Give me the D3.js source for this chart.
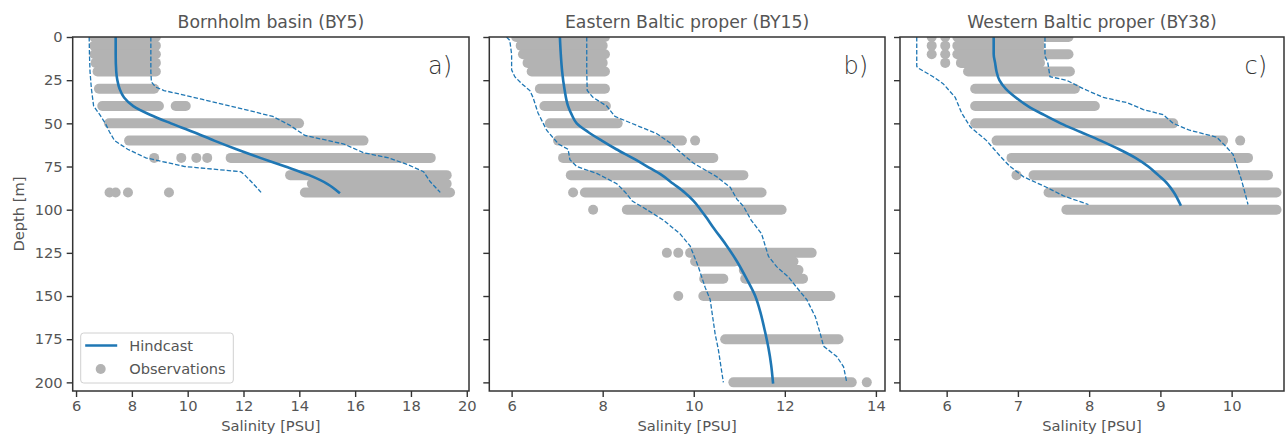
<!DOCTYPE html>
<html>
<head>
<meta charset="utf-8">
<script src="https://cdn.jsdelivr.net/npm/d3@7"></script>
<style>
  body { margin: 0; background: #fff; }
  svg text { font-family: "DejaVu Sans", sans-serif; fill: #555; }
  .axis path, .axis line { stroke: #333; }
</style>
</head>
<body>
<div class="chart"></div>
<script>
// ---- Bornholm basin (BY5) ----
const hindDepthA = [0, 10, 20, 25, 30, 35, 40, 45, 50, 55, 60, 65, 70, 75, 80, 85, 90];
const hindSalA = [7.42, 7.42, 7.44, 7.48, 7.56, 7.72, 8.05, 8.65, 9.4, 10.2, 10.95, 11.75, 12.6, 13.5, 14.35, 15.0, 15.42];
const lowDepthA = [0, 10, 20, 30, 40, 45, 50, 55, 60, 65, 70, 75, 78, 80, 85, 90];
const lowSalA = [6.47, 6.48, 6.5, 6.55, 6.63, 6.85, 7.05, 7.2, 7.38, 7.85, 8.5, 9.9, 11.9, 12.05, 12.35, 12.63];
const upDepthA = [0, 10, 20, 26, 29, 31, 36, 41, 46, 51, 57, 62, 67, 70, 74, 78, 84, 90];
const upSalA = [8.68, 8.68, 8.68, 8.7, 8.85, 9.15, 10.5, 11.8, 13.05, 13.65, 14.2, 15.6, 16.3, 17.2, 17.9, 18.45, 18.7, 19.05];
// observation rows: [depth, min salinity, max salinity]
const obsRowsA = [
  [0, 6.65, 8.86], [5, 6.65, 8.86], [10, 6.66, 8.86], [15, 6.7, 8.86], [20, 6.77, 8.86],
  [30, 6.82, 8.8], [40, 6.94, 8.97], [40, 9.57, 9.93], [50, 7.18, 13.99], [60, 7.9, 16.3],
  [70, 11.54, 18.71], [80, 13.67, 19.28], [85, 14.45, 19.28], [90, 14.2, 19.4]
];
// single observations: [depth, salinity]
const obsDotsA = [[70, 8.8], [70, 9.77], [70, 10.31], [70, 10.7], [90, 7.2], [90, 7.42], [90, 7.86], [90, 9.33]];

// ---- Eastern Baltic proper (BY15) ----
const hindDepthB = [0, 10, 20, 30, 40, 45, 50, 55, 60, 65, 70, 75, 80, 85, 90, 95, 100, 105, 110, 120, 130, 140, 150, 160, 170, 180, 190, 200];
const hindSalB = [7.06, 7.08, 7.11, 7.16, 7.24, 7.32, 7.43, 7.68, 7.98, 8.3, 8.65, 8.98, 9.3, 9.55, 9.8, 10.0, 10.15, 10.29, 10.42, 10.7, 10.95, 11.16, 11.35, 11.47, 11.56, 11.64, 11.7, 11.74];
const lowDepthB = [0, 2, 10, 19, 23, 27, 31, 35, 44, 54, 62, 65, 71, 75, 79, 85, 90, 95, 100, 106, 114, 121, 133, 145, 152, 172, 181, 200];
const lowSalB = [5.89, 5.96, 6.0, 6.0, 6.07, 6.22, 6.4, 6.47, 6.58, 6.77, 7.03, 7.24, 7.28, 7.43, 7.87, 8.31, 8.5, 8.65, 8.97, 9.33, 9.7, 9.92, 10.1, 10.25, 10.36, 10.47, 10.54, 10.65];
const upDepthB = [0, 10, 20, 31, 35, 40, 46, 52, 56, 62, 65, 73, 81, 87, 94, 98, 106, 114, 127, 133, 139, 145, 152, 162, 172, 179, 185, 191, 200];
const upSalB = [7.65, 7.65, 7.65, 7.66, 7.79, 8.09, 8.27, 8.82, 9.19, 9.52, 9.63, 9.99, 10.51, 10.8, 10.95, 11.09, 11.26, 11.49, 11.64, 11.82, 12.08, 12.26, 12.48, 12.67, 12.78, 12.85, 13.14, 13.29, 13.36];
const obsRowsB = [
  [0, 6.1, 8.05], [5, 6.2, 8.0], [10, 6.25, 8.05], [15, 6.35, 8.0], [20, 6.44, 8.05],
  [30, 6.62, 8.05], [40, 6.72, 8.07], [50, 6.84, 8.33], [60, 7.02, 9.74], [70, 7.13, 10.43],
  [80, 7.3, 11.09], [90, 7.61, 11.49], [100, 8.53, 11.93], [125, 9.92, 12.59],
  [130, 10.03, 10.9], [130, 11.0, 12.19], [135, 11.1, 12.3], [140, 10.23, 10.65], [140, 11.13, 12.4],
  [150, 10.21, 13.0], [175, 10.69, 13.18], [200, 10.87, 13.47]
];
const obsDotsB = [[60, 10.03], [90, 7.35], [100, 7.79], [125, 9.41], [125, 9.66], [150, 9.66], [200, 13.8]];

// ---- Western Baltic proper (BY38) ----
const hindDepthC = [0, 10, 15, 20, 25, 30, 35, 40, 45, 50, 55, 60, 65, 70, 75, 80, 85, 90, 97];
const hindSalC = [6.66, 6.66, 6.68, 6.7, 6.74, 6.83, 6.97, 7.14, 7.36, 7.6, 7.88, 8.16, 8.42, 8.65, 8.83, 8.97, 9.1, 9.19, 9.28];
const lowDepthC = [0, 17, 18, 23, 27, 35, 44, 52, 60, 69, 75, 81, 87, 92, 97];
const lowSalC = [5.58, 5.58, 5.6, 5.81, 5.95, 6.12, 6.21, 6.33, 6.56, 6.75, 6.89, 7.08, 7.4, 7.64, 7.99];
const upDepthC = [0, 11, 15, 23, 25, 30, 35, 38, 42, 45, 50, 54, 58, 63, 68, 73, 83, 97];
const upSalC = [7.38, 7.38, 7.42, 7.45, 7.68, 7.92, 8.2, 8.53, 8.76, 9.04, 9.18, 9.41, 9.79, 9.91, 10.02, 10.06, 10.14, 10.23];
const obsRowsC = [
  [0, 6.15, 7.71], [5, 6.15, 7.31], [10, 6.15, 7.71], [15, 6.2, 7.31], [20, 6.3, 7.73],
  [30, 6.4, 7.8], [40, 6.4, 8.08], [50, 6.4, 9.18], [60, 6.7, 9.88], [70, 6.91, 10.23],
  [80, 7.22, 10.51], [90, 7.43, 10.63], [100, 7.68, 10.63]
];
const obsDotsC = [[0, 5.79], [0, 5.98], [5, 5.79], [5, 5.98], [10, 5.79], [10, 5.98], [15, 5.98], [60, 10.12], [80, 6.98]];

const depthTicks = [0, 25, 50, 75, 100, 125, 150, 175, 200];
const panels = [
  { title: "Bornholm basin (BY5)", tag: "a)", left: 72.7, right: 469, xDomain: [5.88, 20.08], xTicks: [6, 8, 10, 12, 14, 16, 18, 20],
    hind: [hindDepthA, hindSalA], low: [lowDepthA, lowSalA], up: [upDepthA, upSalA], rows: obsRowsA, dots: obsDotsA, legend: true },
  { title: "Eastern Baltic proper (BY15)", tag: "b)", left: 489.3, right: 885, xDomain: [5.51, 14.2], xTicks: [6, 8, 10, 12, 14],
    hind: [hindDepthB, hindSalB], low: [lowDepthB, lowSalB], up: [upDepthB, upSalB], rows: obsRowsB, dots: obsDotsB },
  { title: "Western Baltic proper (BY38)", tag: "c)", left: 900, right: 1284, xDomain: [5.345, 10.735], xTicks: [6, 7, 8, 9, 10],
    hind: [hindDepthC, hindSalC], low: [lowDepthC, lowSalC], up: [upDepthC, upSalC], rows: obsRowsC, dots: obsDotsC }
];

const W = 1285, H = 437, plotTop = 37, plotBottom = 391;
const obsColor = "#b3b3b3", lineColor = "#1f77b4";

const svg = d3.select(".chart").append("svg")
  .attr("width", W).attr("height", H);

const scaleY = d3.scaleLinear().domain([0, 205]).range([plotTop, plotBottom]);

panels.forEach((p, i) => {
  const scaleX = d3.scaleLinear().domain(p.xDomain).range([p.left, p.right]);
  const g = svg.append("g");

  g.append("clipPath").attr("id", "clip" + i)
    .append("rect").attr("x", p.left).attr("y", plotTop)
    .attr("width", p.right - p.left).attr("height", plotBottom - plotTop);

  const plot = g.append("g").attr("clip-path", `url(#clip${i})`);

  // observations: dense rows drawn as rounded strokes, plus lone points
  plot.selectAll(".row").data(p.rows).enter().append("line")
    .attr("x1", d => scaleX(d[1])).attr("x2", d => scaleX(d[2]))
    .attr("y1", d => scaleY(d[0])).attr("y2", d => scaleY(d[0]))
    .attr("stroke", obsColor).attr("stroke-width", 10).attr("stroke-linecap", "round");

  plot.selectAll(".dot").data(p.dots).enter().append("circle")
    .attr("cx", d => scaleX(d[1])).attr("cy", d => scaleY(d[0])).attr("r", 5)
    .attr("fill", obsColor);

  const toPts = (pair) => pair[0].map((d, k) => [d, pair[1][k]]);

  const dashLine = d3.line().x(d => scaleX(d[1])).y(d => scaleY(d[0]));
  [p.low, p.up].forEach(pair => {
    plot.append("path")
      .attr("d", dashLine(toPts(pair)))
      .attr("fill", "none").attr("stroke", lineColor)
      .attr("stroke-width", 1.3).attr("stroke-dasharray", "4.5,2");
  });

  const hindLine = d3.line().curve(d3.curveMonotoneY)
    .x(d => scaleX(d[1])).y(d => scaleY(d[0]));
  plot.append("path")
    .attr("d", hindLine(toPts(p.hind)))
    .attr("fill", "none").attr("stroke", lineColor)
    .attr("stroke-width", 2.6).attr("stroke-linecap", "square");

  // axes
  const xAxis = g.append("g").attr("class", "axis")
    .attr("transform", `translate(0,${plotBottom})`)
    .call(d3.axisBottom(scaleX).tickValues(p.xTicks).tickSize(6).tickPadding(4).tickFormat(d3.format("d")));
  xAxis.select(".domain").remove();
  xAxis.selectAll("text").attr("font-size", 14.7).attr("fill", "#555");
  xAxis.selectAll("line").attr("stroke-width", 1.4);

  const yAxis = g.append("g").attr("class", "axis")
    .attr("transform", `translate(${p.left},0)`)
    .call(d3.axisLeft(scaleY).tickValues(depthTicks).tickSize(6).tickPadding(4)
      .tickFormat(i === 0 ? d3.format("d") : ""));
  yAxis.select(".domain").remove();
  yAxis.selectAll("text").attr("font-size", 14.7).attr("fill", "#555");
  yAxis.selectAll("line").attr("stroke-width", 1.4);

  // frame
  g.append("rect").attr("x", p.left).attr("y", plotTop)
    .attr("width", p.right - p.left).attr("height", plotBottom - plotTop)
    .attr("fill", "none").attr("stroke", "#333").attr("stroke-width", 1.5);

  g.append("text")
    .attr("x", (p.left + p.right) / 2).attr("y", 28)
    .attr("text-anchor", "middle").attr("font-size", 17.3)
    .text(p.title);

  g.append("text")
    .attr("x", (p.left + p.right) / 2).attr("y", 431)
    .attr("text-anchor", "middle").attr("font-size", 14.7)
    .text("Salinity [PSU]");

  g.append("text")
    .attr("x", p.right - 17).attr("y", 74)
    .attr("text-anchor", "end").attr("font-size", 24).attr("font-weight", 200)
    .style("fill", "#333")
    .text(p.tag);

  if (p.legend) {
    const lg = g.append("g").attr("transform", `translate(${p.left + 8},333)`);
    lg.append("rect").attr("width", 152.6).attr("height", 50).attr("rx", 3)
      .attr("fill", "#fff").attr("fill-opacity", 0.8).attr("stroke", "#d0d0d0");
    lg.append("line").attr("x1", 4.5).attr("x2", 36.5).attr("y1", 12.5).attr("y2", 12.5)
      .attr("stroke", lineColor).attr("stroke-width", 2.6);
    lg.append("circle").attr("cx", 20).attr("cy", 36).attr("r", 5).attr("fill", obsColor);
    lg.append("text").attr("x", 48.5).attr("y", 17.5).attr("font-size", 14.6).text("Hindcast");
    lg.append("text").attr("x", 48.5).attr("y", 41).attr("font-size", 14.6).text("Observations");
  }
});

svg.append("text")
  .attr("transform", `translate(24,${(plotTop + plotBottom) / 2}) rotate(-90)`)
  .attr("text-anchor", "middle").attr("font-size", 14.7)
  .text("Depth [m]");
</script>
</body>
</html>
